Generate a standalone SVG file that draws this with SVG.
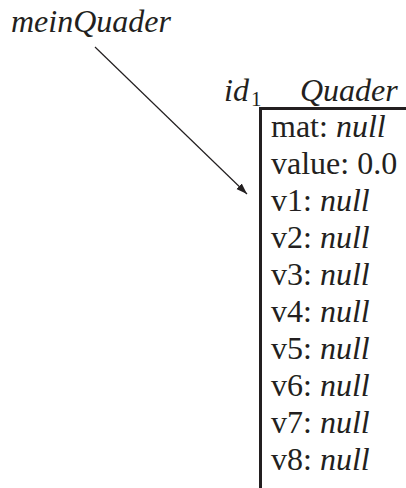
<svg xmlns="http://www.w3.org/2000/svg" width="406" height="488" viewBox="0 0 406 488">
<style>
.t{font-size:32px;fill:#231f20}
.i{font-style:italic}
</style>
<defs>
<marker id="ah" viewBox="0 0 10 10" refX="10" refY="5" markerWidth="11" markerHeight="11" markerUnits="userSpaceOnUse" orient="auto"><path d="M0,1.5 L10,5 L0,8.5 Z" fill="#231f20"/></marker>
</defs>
<g id="var"><text class="t i" style="font-family:'Liberation Serif',serif" x="11" y="32">meinQuader</text></g>
<g id="obj">
<text class="t" style="font-family:'Liberation Serif',serif" x="224" y="101"><tspan class="i">id</tspan><tspan font-size="21" dx="2" dy="5">1</tspan></text>
<text class="t i" style="font-family:'Liberation Serif',serif" x="300" y="101">Quader</text>
<path d="M260.5,488 V108.5 H406" fill="none" stroke="#231f20" stroke-width="3"/>
<text class="t" style="font-family:'Liberation Serif',serif" x="271" y="137">mat: <tspan class="i">null</tspan></text>
<text class="t" style="font-family:'Liberation Serif',serif" x="271" y="174">value: 0.0</text>
<text class="t" style="font-family:'Liberation Serif',serif" x="271" y="211">v1: <tspan class="i">null</tspan></text>
<text class="t" style="font-family:'Liberation Serif',serif" x="271" y="248">v2: <tspan class="i">null</tspan></text>
<text class="t" style="font-family:'Liberation Serif',serif" x="271" y="285">v3: <tspan class="i">null</tspan></text>
<text class="t" style="font-family:'Liberation Serif',serif" x="271" y="322">v4: <tspan class="i">null</tspan></text>
<text class="t" style="font-family:'Liberation Serif',serif" x="271" y="359">v5: <tspan class="i">null</tspan></text>
<text class="t" style="font-family:'Liberation Serif',serif" x="271" y="396">v6: <tspan class="i">null</tspan></text>
<text class="t" style="font-family:'Liberation Serif',serif" x="271" y="433">v7: <tspan class="i">null</tspan></text>
<text class="t" style="font-family:'Liberation Serif',serif" x="271" y="470">v8: <tspan class="i">null</tspan></text>
</g>
<g id="connectors"><line x1="95" y1="47" x2="247" y2="194" stroke="#231f20" stroke-width="1.2" marker-end="url(#ah)"/></g>
</svg>
